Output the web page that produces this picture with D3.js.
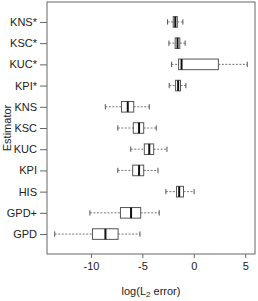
<!DOCTYPE html>
<html><head><meta charset="utf-8">
<script src="https://cdn.jsdelivr.net/npm/d3@7"></script>
<style>body{margin:0;background:#fff}svg{display:block}text{font-family:"Liberation Sans",Arial,sans-serif}</style>
</head><body>
<script>
const categories = ["GPD","GPD+","HIS","KPI","KUC","KSC","KNS","KPI*","KUC*","KSC*","KNS*"];
const whiskerLow = [-13.52,-10.1,-2.71,-7.39,-6.13,-7.39,-8.6,-2.39,-2.16,-2.42,-2.55];
const q1 = [-9.85,-7.13,-1.68,-5.94,-4.81,-5.88,-7.03,-1.77,-1.48,-1.81,-2.0];
const median = [-8.59,-6.1,-1.42,-5.32,-4.33,-5.32,-6.42,-1.52,-1.19,-1.58,-1.8];
const q3 = [-7.36,-5.16,-1.0,-4.87,-3.9,-4.87,-5.84,-1.29,2.39,-1.36,-1.6];
const whiskerHigh = [-5.23,-3.36,0.03,-3.48,-2.61,-3.65,-4.33,-0.77,5.2,-0.84,-1.06];
const xTicks = [-10,-5,0,5];

const W=258,H=301;
const svg=d3.select("body").append("svg").attr("width",W).attr("height",H);
const L=47,R=255,T=2,B=254;
const x=d3.scaleLinear().domain([-14.27,5.95]).range([L,R]);
const y=d3.scaleLinear().domain([0.06,11.94]).range([B,T]);
const bh=(y(0)-y(0.5))/2; // half box height
const sh=bh/2;

const data=categories.map((c,i)=>({c,i:i+1,lo:whiskerLow[i],q1:q1[i],med:median[i],q3:q3[i],hi:whiskerHigh[i]}));
const g=svg.append("g");
const rows=g.selectAll("g.row").data(data).enter().append("g");
const wc="#777";
rows.append("line").attr("x1",d=>x(d.lo)).attr("x2",d=>x(d.q1)).attr("y1",d=>y(d.i)).attr("y2",d=>y(d.i))
 .attr("stroke",wc).attr("stroke-width",1).attr("stroke-dasharray","2,1.5");
rows.append("line").attr("x1",d=>x(d.q3)).attr("x2",d=>x(d.hi)).attr("y1",d=>y(d.i)).attr("y2",d=>y(d.i))
 .attr("stroke",wc).attr("stroke-width",1).attr("stroke-dasharray","2,1.5");
rows.append("line").attr("x1",d=>x(d.lo)).attr("x2",d=>x(d.lo)).attr("y1",d=>y(d.i)-sh).attr("y2",d=>y(d.i)+sh).attr("stroke","#555");
rows.append("line").attr("x1",d=>x(d.hi)).attr("x2",d=>x(d.hi)).attr("y1",d=>y(d.i)-sh).attr("y2",d=>y(d.i)+sh).attr("stroke","#555");
rows.append("rect").attr("x",d=>x(d.q1)).attr("width",d=>x(d.q3)-x(d.q1)).attr("y",d=>y(d.i)-bh).attr("height",2*bh)
 .attr("fill","#fff").attr("stroke","#555").attr("stroke-width",1);
rows.append("line").attr("x1",d=>x(d.med)).attr("x2",d=>x(d.med)).attr("y1",d=>y(d.i)-bh).attr("y2",d=>y(d.i)+bh).attr("stroke","#111").attr("stroke-width",2);

// frame
svg.append("rect").attr("x",L).attr("y",T).attr("width",R-L).attr("height",B-T).attr("fill","none").attr("stroke","#666").attr("stroke-width",1);

// x axis
const xa=svg.append("g").attr("transform",`translate(0,${B})`).call(d3.axisBottom(x).tickValues(xTicks).tickSize(4).tickPadding(4).tickFormat(d3.format("d")));
xa.select(".domain").remove();
xa.selectAll("line").attr("stroke","#666");
xa.selectAll("text").attr("font-size",11).attr("fill","#222").text(d=>d<0?"-"+Math.abs(d):d);

// y axis
const ya=svg.append("g").attr("transform",`translate(${L},0)`).call(d3.axisLeft(y).tickValues(d3.range(1,12)).tickSize(7).tickPadding(3).tickFormat(d=>categories[d-1]));
ya.select(".domain").remove();
ya.selectAll("line").attr("stroke","#666");
ya.selectAll("text").attr("font-size",11).attr("fill","#222");

// labels
const xl=svg.append("text").attr("x",(L+R)/2).attr("y",295).attr("text-anchor","middle").attr("font-size",11).attr("fill","#222");
xl.append("tspan").text("log(L");
xl.append("tspan").attr("font-size",8).attr("dy",2).text("2");
xl.append("tspan").attr("dy",-2).text(" error)");
svg.append("text").attr("transform",`translate(11,${(T+B)/2}) rotate(-90)`).attr("text-anchor","middle").attr("font-size",11).attr("fill","#222").text("Estimator");
</script>
</body></html>
